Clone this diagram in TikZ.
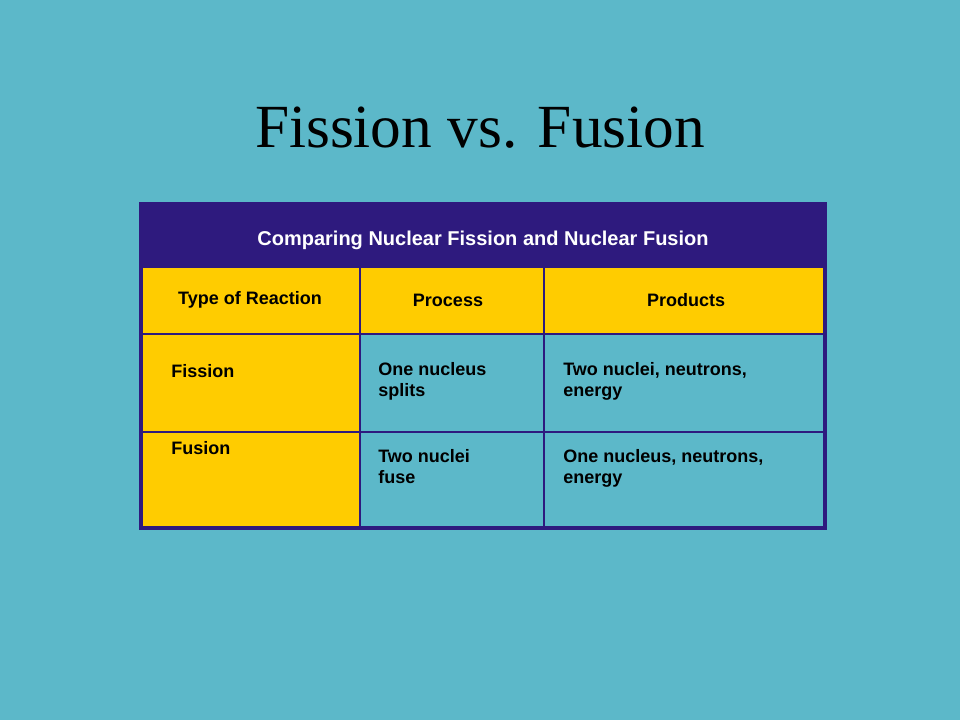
\documentclass[tikz,border=0pt]{standalone}
\usepackage{fontspec}
\setmainfont{Liberation Serif}
\setsansfont{Liberation Sans}
\usetikzlibrary{positioning}
\definecolor{slidebg}{HTML}{5CB8C9}
\definecolor{headblue}{HTML}{2E1A7E}
\definecolor{cellyel}{HTML}{FFCC00}
\begin{document}
\begin{tikzpicture}[x=0.75pt,y=-0.75pt]
\tikzstyle{cell}=[font=\sffamily\bfseries\fontsize{13.5}{16}\selectfont,align=left,anchor=north west,inner sep=0pt]
\tikzstyle{colhead}=[font=\sffamily\bfseries\fontsize{13.5}{16}\selectfont,inner sep=0pt]
\fill[slidebg] (0,0) rectangle (960,720);
\useasboundingbox (0,0) rectangle (960,720);
%title
\node[font=\fontsize{46}{50}\selectfont] (title) at (480,128) {Fission vs. Fusion};
%table fills
\fill[headblue] (141,204) rectangle (825,268);
\fill[cellyel] (143,268) rectangle (823,334);
\fill[cellyel] (143,334) rectangle (360,527);
\draw[headblue,line width=0.8pt] (143,334) -- (823,334) (143,432) -- (823,432)
  (360,268) -- (360,527) (544,268) -- (544,527);
\draw[headblue,line width=3pt] (141,204) rectangle (825,528);
%texts
\node[font=\sffamily\bfseries\fontsize{15}{18}\selectfont,text=white] (cap) at (483,240) {Comparing Nuclear Fission and Nuclear Fusion};
\node[colhead] (h1) at (250,300) {Type of Reaction};
\node[colhead] (h2) at (448,300) {Process};
\node[colhead] (h3) at (686,300) {Products};
\node[cell] (fis) at (171,364) {Fission};
\node[cell] (fisp) at (378,362) {One nucleus\\splits};
\node[cell] (fisr) at (563,362) {Two nuclei, neutrons,\\energy};
\node[cell] (fus) at (171,441) {Fusion};
\node[cell] (fusp) at (378,449) {Two nuclei\\fuse};
\node[cell] (fusr) at (563,449) {One nucleus, neutrons,\\energy};
\end{tikzpicture}
\end{document}
